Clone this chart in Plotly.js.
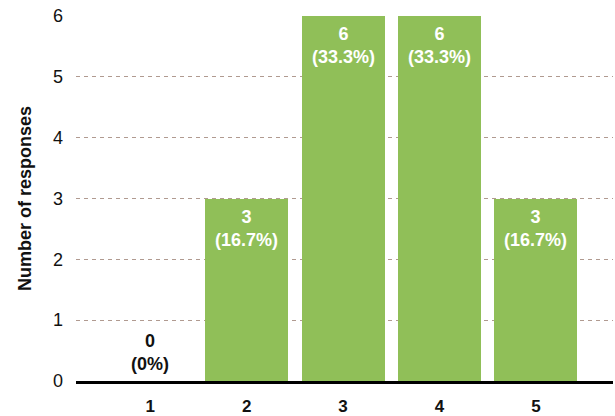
<!DOCTYPE html>
<html>
<head>
<meta charset="utf-8">
<script src="https://cdn.plot.ly/plotly-3.0.1.min.js"></script>
<style>html,body{margin:0;padding:0;background:#fff}#chart{width:615px;height:416px}</style>
</head>
<body>
<div id="chart"></div>
<script>
const categories = [1, 2, 3, 4, 5];
const tickLabels = ['1', '2', '3', '4', '5'];
const responses = [0, 3, 6, 6, 3];
const yTicks = [0, 1, 2, 3, 4, 5, 6];

const total = responses.reduce((a, b) => a + b, 0);
const labels = responses.map(v => {
  const p = v / total * 100;
  return v + '<br>(' + (v === 0 ? '0' : p.toFixed(1)) + '%)';
});

const FONT = 'Liberation Sans, Arial, Helvetica, sans-serif';

const trace = {
  type: 'bar',
  x: categories,
  y: responses,
  width: 0.86,
  marker: {color: '#90bf58', line: {width: 0}},
  hoverinfo: 'skip'
};

const annotations = categories.map((c, i) => {
  const zero = responses[i] === 0;
  return {
    x: c, y: responses[i], xref: 'x', yref: 'y',
    text: labels[i], showarrow: false,
    xanchor: 'center',
    yanchor: zero ? 'bottom' : 'top',
    yshift: zero ? 5 : -6,
    font: {family: FONT, size: 18, weight: 'bold', color: zero ? '#111' : '#ffffff'}
  };
});

const layout = {
  width: 615, height: 416,
  margin: {l: 76, r: 2, t: 16, b: 35},
  paper_bgcolor: '#fff', plot_bgcolor: '#fff',
  showlegend: false,
  bargap: 0,
  font: {family: FONT, color: '#111'},
  xaxis: {
    range: [0.23, 5.8],
    tickvals: categories, ticktext: tickLabels,
    tickfont: {family: FONT, size: 17, weight: 'bold', color: '#111'},
    showgrid: false, zeroline: false,
    showline: true, linecolor: '#000', linewidth: 3,
    ticks: '', ticklabelstandoff: 8
  },
  yaxis: {
    range: [0, 6],
    tickvals: yTicks,
    tickfont: {family: FONT, size: 18, color: '#111'},
    showgrid: true, gridcolor: '#b09a90', griddash: '4px,4px', gridwidth: 1,
    zeroline: false, showline: false, ticks: '', ticklabelstandoff: 12,
    title: {text: 'Number of responses', font: {family: FONT, size: 18, weight: 'bold', color: '#111'}, standoff: 16}
  },
  annotations: annotations
};

Plotly.newPlot('chart', [trace], layout, {displayModeBar: false, staticPlot: true});
</script>
</body>
</html>
